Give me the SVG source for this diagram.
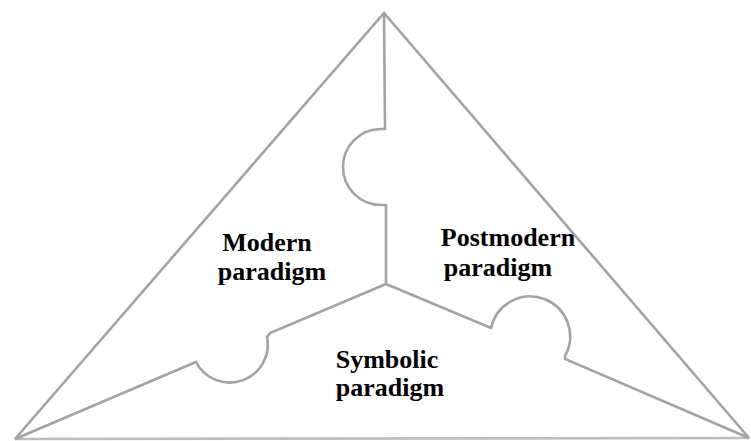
<svg xmlns="http://www.w3.org/2000/svg" width="751" height="441" viewBox="0 0 751 441">
<style>
.edge{fill:none;stroke:#a3a3a3;stroke-width:2.6;stroke-linejoin:miter;stroke-linecap:butt}
.base{fill:none;stroke:#bdbdbd;stroke-width:2.6}
.lbl{font-family:"Liberation Serif","Times New Roman",serif;font-weight:bold;font-size:26px;fill:#000;text-anchor:middle}
</style>
<rect width="751" height="441" fill="#fff"/>
<g id="connectors">
<path class="edge" d="M15,439 L384,13 L749,438"/>
<path class="base" d="M15,439 L749,438"/>
<path class="edge" d="M384,13 L385,129 L381,129 A38 38 0 0 0 381 205 L386,205 L386,284"/>
<path class="edge" d="M386,284 L270,333 L267,337 A38 38 0 0 1 196 362 L15,439"/>
<path class="edge" d="M386,284 L491,328 A40 40 0 1 1 565 356 L565,359 L749,438"/>
</g>
<g id="modern">
<text class="lbl" x="267" y="251">Modern</text>
<text class="lbl" x="272" y="280">paradigm</text>
</g>
<g id="postmodern">
<text class="lbl" x="508" y="246">Postmodern</text>
<text class="lbl" x="498" y="276">paradigm</text>
</g>
<g id="symbolic">
<text class="lbl" x="387" y="368">Symbolic</text>
<text class="lbl" x="390" y="396">paradigm</text>
</g>
</svg>
